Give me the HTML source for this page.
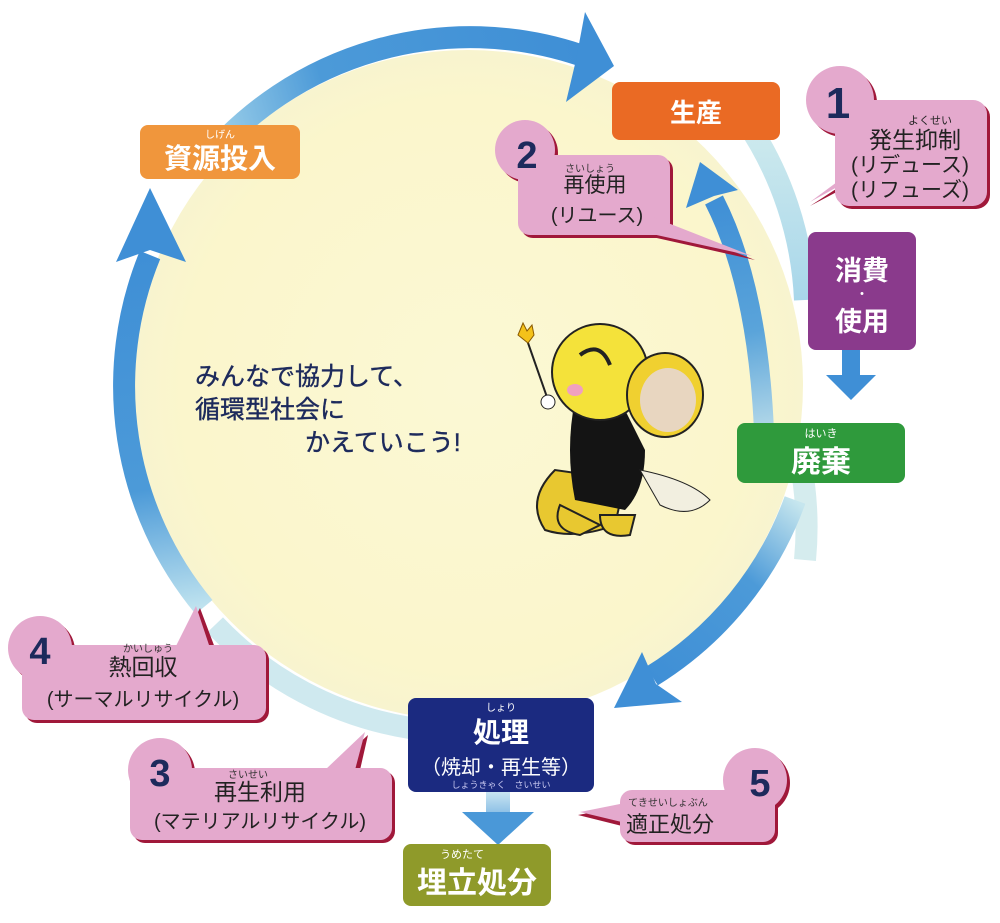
<!DOCTYPE html>
<html><head><meta charset="utf-8"><style>
html,body{margin:0;padding:0;background:#fff;}
svg{display:block;}
text{font-family:"Liberation Sans","Noto Sans CJK JP",sans-serif;}
</style></head><body>
<svg width="1000" height="923" viewBox="0 0 1000 923" xmlns="http://www.w3.org/2000/svg">
<defs>
<radialGradient id="bg" cx="50%" cy="50%" r="50%">
<stop offset="0" stop-color="#fbf8d4"/><stop offset="0.85" stop-color="#fbf6cc"/><stop offset="1" stop-color="#f8f4cf"/>
</radialGradient>
<linearGradient id="g1" gradientUnits="userSpaceOnUse" x1="204" y1="163" x2="578" y2="55"><stop offset="0" stop-color="#a9d8ec"/><stop offset="0.35" stop-color="#4c9ad8"/><stop offset="1" stop-color="#3f8fd6"/></linearGradient>
<linearGradient id="g2" gradientUnits="userSpaceOnUse" x1="204" y1="607" x2="150" y2="255"><stop offset="0" stop-color="#bfe3ef"/><stop offset="0.35" stop-color="#4c9ad8"/><stop offset="1" stop-color="#3f8fd6"/></linearGradient>
<linearGradient id="g3" gradientUnits="userSpaceOnUse" x1="795" y1="500" x2="650" y2="675"><stop offset="0" stop-color="#c6e6ee"/><stop offset="0.4" stop-color="#4c9ad8"/><stop offset="1" stop-color="#3f8fd6"/></linearGradient>
<linearGradient id="g4" gradientUnits="userSpaceOnUse" x1="760" y1="470" x2="710" y2="200"><stop offset="0" stop-color="#d5ecee"/><stop offset="0.5" stop-color="#5aa4da"/><stop offset="1" stop-color="#3f8fd6"/></linearGradient>
<linearGradient id="g5" gradientUnits="userSpaceOnUse" x1="0" y1="110" x2="0" y2="500"><stop offset="0" stop-color="#d2ecee"/><stop offset="0.5" stop-color="#a7d6ea"/><stop offset="1" stop-color="#d9efee"/></linearGradient>
<linearGradient id="g6" gradientUnits="userSpaceOnUse" x1="0" y1="790" x2="0" y2="840"><stop offset="0" stop-color="#cfe9f3"/><stop offset="1" stop-color="#3f8fd6"/></linearGradient>
</defs>
<circle cx="468" cy="385" r="335" fill="url(#bg)"/>
<path d="M 745 120 A 345 345 0 0 1 805 300" stroke="url(#g5)" stroke-width="22" fill="none"/>
<path d="M 800 460 A 345 345 0 0 1 805 560" stroke="#d5ecee" stroke-width="22" fill="none"/>
<path d="M 215 625 A 345 345 0 0 0 410 728" stroke="#cfe9ef" stroke-width="22" fill="none"/>
<!-- main arcs -->
<path d="M 204 163 A 345 345 0 0 1 580 55" stroke="url(#g1)" stroke-width="22" fill="none"/>
<polygon points="585,12 614,66 566,102 576,60" fill="#3f8fd6"/>
<path d="M 204 607 A 345 345 0 0 1 150 255" stroke="url(#g2)" stroke-width="22" fill="none"/>
<polygon points="116,262 150,188 186,262 150,250" fill="#3f8fd6"/>
<path d="M 795 500 A 345 345 0 0 1 652 676" stroke="url(#g3)" stroke-width="22" fill="none"/>
<polygon points="642,652 614,708 682,702 656,684" fill="#3f8fd6"/>
<path d="M 765 480 Q 765 300 714 200" stroke="url(#g4)" stroke-width="20" fill="none"/>
<polygon points="686,208 700,162 738,190 714,196" fill="#3f8fd6"/>
<!-- short down arrows -->
<rect x="842" y="350" width="18" height="30" fill="#3f8fd6"/>
<polygon points="826,375 876,375 851,400" fill="#3f8fd6"/>
<rect x="486" y="790" width="24" height="30" fill="url(#g6)"/>
<polygon points="462,812 534,812 498,845" fill="#4a98d8"/>

<!-- nodes -->
<rect x="140" y="125" width="160" height="54" rx="8" fill="#f0963c"/>
<text x="220" y="138" font-size="10" fill="#fff" text-anchor="middle">しげん</text>
<text x="220" y="168" font-size="28" fill="#fff" font-weight="bold" text-anchor="middle">資源投入</text>

<rect x="612" y="82" width="168" height="58" rx="8" fill="#ea6a24"/>
<text x="696" y="122" font-size="26" fill="#fff" font-weight="bold" text-anchor="middle">生産</text>

<rect x="808" y="232" width="108" height="118" rx="8" fill="#8a3a8c"/>
<text x="862" y="280" font-size="27" fill="#fff" font-weight="bold" text-anchor="middle">消費</text>
<text x="862" y="299" font-size="14" fill="#fff" text-anchor="middle">・</text>
<text x="862" y="331" font-size="27" fill="#fff" font-weight="bold" text-anchor="middle">使用</text>

<rect x="737" y="423" width="168" height="60" rx="8" fill="#2f9a3c"/>
<text x="821" y="437" font-size="11" fill="#fff" text-anchor="middle">はいき</text>
<text x="821" y="472" font-size="30" fill="#fff" font-weight="bold" text-anchor="middle">廃棄</text>

<rect x="408" y="698" width="186" height="94" rx="8" fill="#1b2a80"/>
<text x="501" y="711" font-size="10" fill="#fff" text-anchor="middle">しょり</text>
<text x="501" y="742" font-size="28" fill="#fff" font-weight="bold" text-anchor="middle">処理</text>
<text x="501" y="774" font-size="20" fill="#fff" text-anchor="middle">（焼却・再生等）</text>
<text x="501" y="788" font-size="9" fill="#c8c8f0" text-anchor="middle">しょうきゃく　さいせい</text>

<rect x="403" y="844" width="148" height="62" rx="8" fill="#8f9a2a"/>
<text x="440" y="858" font-size="11" fill="#fff">うめたて</text>
<text x="477" y="893" font-size="30" fill="#fff" font-weight="bold" text-anchor="middle">埋立処分</text>

<!-- bubble 1 -->
<g>
<circle cx="840" cy="100" r="34" fill="#a0183a" transform="translate(3,3)"/>
<rect x="835" y="100" width="152" height="106" rx="14" fill="#a0183a" transform="translate(3,3)"/>
<polygon points="850,185 810,206 862,172" fill="#a0183a"/>
<circle cx="840" cy="100" r="34" fill="#e4a9cd"/>
<rect x="835" y="100" width="152" height="106" rx="14" fill="#e4a9cd"/>
<polygon points="850,180 810,202 860,165" fill="#e4a9cd"/>
<text x="838" y="118" font-size="44" font-weight="bold" fill="#1d2a5c" text-anchor="middle">1</text>
<text x="930" y="124" font-size="11" fill="#222" text-anchor="middle">よくせい</text>
<text x="915" y="148" font-size="23" fill="#222" text-anchor="middle">発生抑制</text>
<text x="910" y="172" font-size="21" fill="#222" text-anchor="middle">(リデュース)</text>
<text x="910" y="197" font-size="21" fill="#222" text-anchor="middle">(リフューズ)</text>
</g>

<!-- bubble 2 -->
<g>
<circle cx="525" cy="150" r="30" fill="#a0183a" transform="translate(3,3)"/>
<rect x="518" y="155" width="152" height="80" rx="12" fill="#a0183a" transform="translate(3,3)"/>
<polygon points="640,215 755,260 630,232" fill="#a0183a"/>
<circle cx="525" cy="150" r="30" fill="#e4a9cd"/>
<rect x="518" y="155" width="152" height="80" rx="12" fill="#e4a9cd"/>
<polygon points="640,212 752,256 625,228" fill="#e4a9cd"/>
<text x="527" y="168" font-size="38" font-weight="bold" fill="#1d2a5c" text-anchor="middle">2</text>
<text x="590" y="172" font-size="10" fill="#333" text-anchor="middle">さいしょう</text>
<text x="595" y="192" font-size="21" fill="#222" text-anchor="middle">再使用</text>
<text x="597" y="222" font-size="20" fill="#222" text-anchor="middle">(リユース)</text>
</g>

<!-- bubble 4 -->
<g>
<circle cx="40" cy="648" r="32" fill="#a0183a" transform="translate(3,3)"/>
<rect x="22" y="645" width="244" height="75" rx="12" fill="#a0183a" transform="translate(3,3)"/>
<polygon points="180,648 200,608 215,648" fill="#a0183a"/>
<circle cx="40" cy="648" r="32" fill="#e4a9cd"/>
<rect x="22" y="645" width="244" height="75" rx="12" fill="#e4a9cd"/>
<polygon points="175,648 196,606 210,648" fill="#e4a9cd"/>
<text x="40" y="664" font-size="38" font-weight="bold" fill="#1d2a5c" text-anchor="middle">4</text>
<text x="148" y="652" font-size="10" fill="#333" text-anchor="middle">かいしゅう</text>
<text x="143" y="675" font-size="23" fill="#222" text-anchor="middle">熱回収</text>
<text x="143" y="706" font-size="20" fill="#222" text-anchor="middle">(サーマルリサイクル)</text>
</g>

<!-- bubble 3 -->
<g>
<circle cx="160" cy="770" r="32" fill="#a0183a" transform="translate(3,3)"/>
<rect x="130" y="768" width="262" height="72" rx="12" fill="#a0183a" transform="translate(3,3)"/>
<polygon points="330,770 368,735 360,770" fill="#a0183a"/>
<circle cx="160" cy="770" r="32" fill="#e4a9cd"/>
<rect x="130" y="768" width="262" height="72" rx="12" fill="#e4a9cd"/>
<polygon points="325,770 365,732 355,770" fill="#e4a9cd"/>
<text x="160" y="786" font-size="38" font-weight="bold" fill="#1d2a5c" text-anchor="middle">3</text>
<text x="248" y="778" font-size="10" fill="#333" text-anchor="middle">さいせい</text>
<text x="260" y="800" font-size="23" fill="#222" text-anchor="middle">再生利用</text>
<text x="260" y="828" font-size="20" fill="#222" text-anchor="middle">(マテリアルリサイクル)</text>
</g>

<!-- bubble 5 -->
<g>
<circle cx="755" cy="780" r="32" fill="#a0183a" transform="translate(3,3)"/>
<rect x="620" y="790" width="155" height="52" rx="12" fill="#a0183a" transform="translate(3,3)"/>
<polygon points="630,805 578,815 630,828" fill="#a0183a"/>
<circle cx="755" cy="780" r="32" fill="#e4a9cd"/>
<rect x="620" y="790" width="155" height="52" rx="12" fill="#e4a9cd"/>
<polygon points="630,802 580,812 630,824" fill="#e4a9cd"/>
<text x="760" y="796" font-size="38" font-weight="bold" fill="#1d2a5c" text-anchor="middle">5</text>
<text x="668" y="806" font-size="10" fill="#333" text-anchor="middle">てきせいしょぶん</text>
<text x="670" y="832" font-size="22" fill="#222" text-anchor="middle">適正処分</text>
</g>

<!-- slogan -->
<g fill="#1d2a5c" font-size="25" stroke="#1d2a5c" stroke-width="0.4">
<text x="195" y="385">みんなで協力して、</text>
<text x="195" y="418">循環型社会に</text>
<text x="305" y="451">かえていこう!</text>
</g>

<!-- mascot -->
<g>
<line x1="527" y1="340" x2="548" y2="400" stroke="#222" stroke-width="2"/>
<path d="M518,335 l5,-12 l4,8 l5,-6 l2,10 l-6,8 z" fill="#f4c21a" stroke="#8a5a00"/>
<path d="M555,470 q-30,30 -10,60 q30,10 70,-5 l10,-45 z" fill="#e8c830" stroke="#222" stroke-width="2"/>
<path d="M575,400 q10,-20 40,-10 l30,60 q0,40 -20,60 l-50,-10 q-10,-50 0,-100z" fill="#141414"/>
<path d="M640,470 q50,10 70,30 q-20,20 -50,5 z" fill="#f2efe0" stroke="#222"/>
<ellipse cx="600" cy="372" rx="48" ry="48" fill="#f4e23a" stroke="#222" stroke-width="2"/>
<ellipse cx="665" cy="395" rx="38" ry="42" fill="#f0d030" stroke="#222" stroke-width="2"/>
<ellipse cx="668" cy="400" rx="28" ry="32" fill="#e8d6c0"/>
<path d="M580,355 q20,-15 30,10" stroke="#222" stroke-width="4" fill="none"/>
<ellipse cx="575" cy="390" rx="8" ry="6" fill="#f0a0c0"/>
<circle cx="548" cy="402" r="7" fill="#fff" stroke="#222"/>
<path d="M560,505 q-10,25 20,30 l20,-10 z" fill="#e8c830" stroke="#222" stroke-width="2"/>
<path d="M600,515 q0,25 30,20 l5,-20 z" fill="#e8c830" stroke="#222" stroke-width="2"/>
</g>
</svg>
</body></html>
